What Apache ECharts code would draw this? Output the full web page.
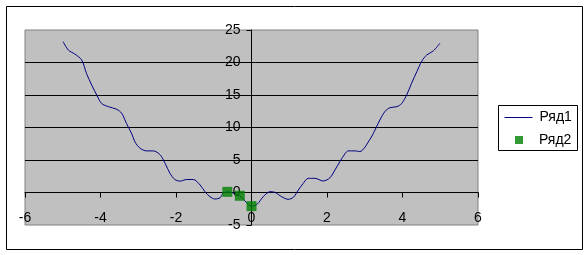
<!DOCTYPE html>
<html>
<head>
<meta charset="utf-8">
<script src="https://cdn.jsdelivr.net/npm/echarts@6/dist/echarts.min.js"></script>
<style>
html,body{margin:0;padding:0;background:#fff;}
#c{width:587px;height:255px;}
</style>
</head>
<body>
<div id="c"></div>
<script>
// Series "Ряд1" (smoothed line)
const line1X = [-4.99,-4.85,-4.68,-4.50,-4.37,-4.23,-4.10,-3.97,-3.79,-3.57,-3.44,-3.31,-3.17,-3.09,-2.95,-2.78,-2.60,-2.42,-2.29,-2.16,-2.03,-1.89,-1.72,-1.54,-1.36,-1.23,-1.10,-0.97,-0.83,-0.75,-0.64,-0.31,0.00,0.15,0.31,0.49,0.62,0.80,0.97,1.11,1.24,1.37,1.50,1.68,1.90,2.08,2.21,2.34,2.48,2.56,2.74,2.87,3.14,3.27,3.40,3.54,3.67,3.85,3.98,4.11,4.24,4.38,4.51,4.64,4.82,4.99];
const line1Y = [23.2,21.9,21.3,20.4,18.3,16.5,15.0,13.7,13.2,12.8,12.2,10.6,9.0,7.8,6.8,6.4,6.4,5.8,4.5,2.95,2.0,1.75,2.0,2.0,1.15,0.1,-0.65,-1.0,-0.8,-0.1,0.1,-0.5,-2.1,-1.8,-0.65,0.12,0.03,-0.65,-1.05,-0.74,0.38,1.4,2.18,2.18,1.77,2.28,3.46,4.74,6.0,6.4,6.4,6.3,8.2,9.6,11.15,12.5,13.05,13.2,13.7,15.0,16.8,18.6,20.2,21.15,21.8,22.95];
// Series "Ряд2" (square markers)
const pts2X = [-0.64,-0.31,0.00];
const pts2Y = [0.1,-0.5,-2.1];
// Axis ticks
const xTicks = [-6,-4,-2,0,2,4,6];
const yTicks = [-5,0,5,10,15,20,25];
const seriesNames = ['Ряд1','Ряд2'];

const G = {left:25, top:30, width:453, height:195};
const xMin = xTicks[0], xMax = xTicks[xTicks.length-1];
const yMin = yTicks[0], yMax = yTicks[yTicks.length-1];
// place axes where the other axis is zero (Excel-style crossing)
const yAxisOffset = -G.width * (0 - xMin) / (xMax - xMin);
const xAxisOffset = -G.height * (0 - yMin) / (yMax - yMin);

const chart = echarts.init(document.getElementById('c'), null, {renderer:'canvas'});
const font = 'Liberation Sans, Arial, sans-serif';
const zip = (a,b) => a.map((v,i)=>[v,b[i]]);

chart.setOption({
  animation:false,
  backgroundColor:'#ffffff',
  grid:{left:G.left, top:G.top, width:G.width, height:G.height, show:true, backgroundColor:'#c0c0c0', borderColor:'#808080', borderWidth:1},
  xAxis:{
    type:'value', min:xMin, max:xMax, interval:xTicks[1]-xTicks[0],
    position:'bottom', offset:xAxisOffset,
    axisLine:{show:true, onZero:false, lineStyle:{color:'#000', width:1}},
    axisTick:{show:true, inside:false, length:5, lineStyle:{color:'#000'}},
    axisLabel:{margin:19, color:'#000', fontFamily:font, fontSize:14, showMinLabel:true, showMaxLabel:true, hideOverlap:false},
    splitLine:{show:false}
  },
  yAxis:{
    type:'value', min:yMin, max:yMax, interval:yTicks[1]-yTicks[0],
    position:'left', offset:yAxisOffset,
    axisLine:{show:true, onZero:false, lineStyle:{color:'#000', width:1}},
    axisTick:{show:true, inside:false, length:5, lineStyle:{color:'#000'}},
    axisLabel:{margin:11, color:'#000', fontFamily:font, fontSize:14, showMinLabel:true, showMaxLabel:true, hideOverlap:false},
    splitLine:{show:true, showMinLine:false, showMaxLine:false, lineStyle:{color:'#000', width:1}}
  },
  legend:[
    {data:[seriesNames[0]], left:504, top:110.5, padding:0, itemWidth:28, itemHeight:14,
     itemStyle:{opacity:0, borderWidth:0},
     lineStyle:{width:1, color:'#000080'},
     formatter:'{a|{name}}',
     textStyle:{color:'#000', fontFamily:font, fontSize:14, lineHeight:14, rich:{a:{padding:[0,0,0,2], fontFamily:font, fontSize:14, color:'#000'}}}},
    {data:[{name:seriesNames[1], icon:'rect'}], left:515, top:133, padding:0, itemWidth:8, itemHeight:8,
     formatter:'{a|{name}}',
     textStyle:{color:'#000', fontFamily:font, fontSize:14, lineHeight:14, rich:{a:{padding:[0,0,0,11], fontFamily:font, fontSize:14, color:'#000'}}}}
  ],
  graphic:[
    {type:'rect', shape:{x:6.5, y:6.5, width:576, height:243}, style:{fill:'none', stroke:'#000', lineWidth:1}, silent:true, z:-1},
    {type:'rect', shape:{x:498.5, y:105.5, width:79, height:45}, style:{fill:'#fff', stroke:'#000', lineWidth:1}, silent:true, z:-1}
  ],
  series:[
    {name:seriesNames[0], type:'line', data:zip(line1X,line1Y), symbol:'none', smooth:0.3,
     lineStyle:{color:'#000080', width:1}, itemStyle:{color:'#000080'}, z:2},
    {name:seriesNames[1], type:'scatter', data:zip(pts2X,pts2Y), symbol:'rect', symbolSize:10,
     itemStyle:{color:'#008000'}, z:3}
  ]
});
</script>
</body>
</html>
